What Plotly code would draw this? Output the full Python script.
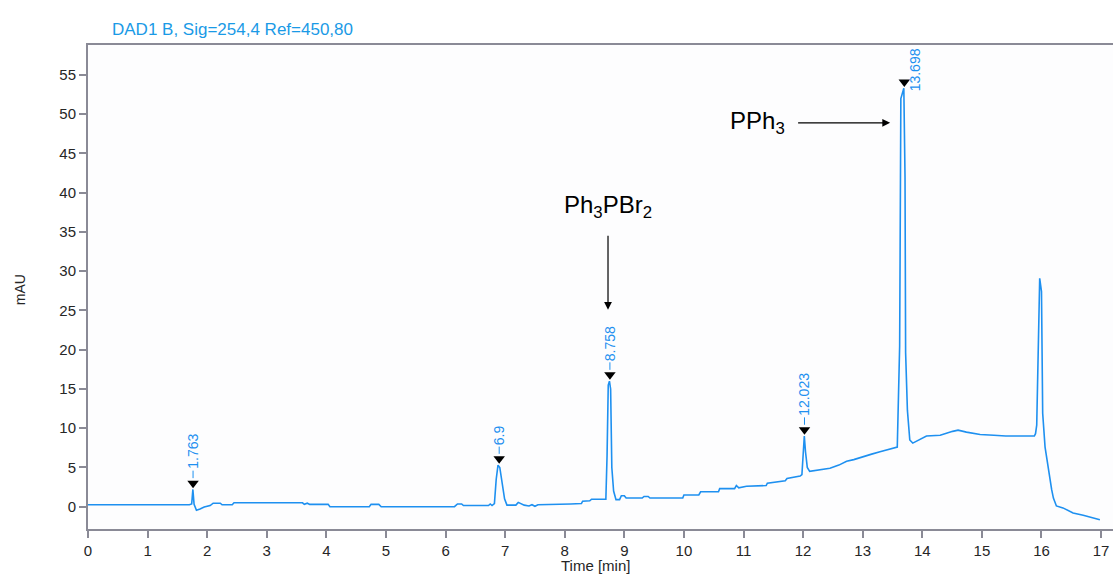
import plotly.graph_objects as go

# ---- chromatogram trace (time in min, absorbance in mAU) ----
time_min = [
    0.00, 1.70, 1.74, 1.76, 1.78, 1.82, 1.88, 1.95, 2.05, 2.10, 2.22, 2.25, 2.42, 2.45,
    3.60, 3.63, 3.68, 3.72, 4.03, 4.06, 4.72, 4.75, 4.88, 4.92, 6.15, 6.20, 6.27, 6.30,
    6.72, 6.75, 6.78, 6.82, 6.85, 6.88, 6.91, 6.95, 6.99, 7.03, 7.18, 7.22, 7.28, 7.32,
    7.40, 7.45, 7.50, 7.55, 8.10, 8.28, 8.30, 8.42, 8.45, 8.69, 8.71, 8.73, 8.75, 8.77,
    8.79, 8.82, 8.86, 8.92, 8.95, 9.00, 9.03, 9.30, 9.33, 9.40, 9.43, 9.98, 10.00, 10.25,
    10.28, 10.58, 10.60, 10.85, 10.88, 10.92, 11.05, 11.38, 11.40, 11.70, 11.73, 11.95,
    11.98, 12.00, 12.02, 12.04, 12.07, 12.11, 12.30, 12.45, 12.60, 12.73, 12.85, 13.00,
    13.15, 13.29, 13.45, 13.58, 13.62,
    13.64, 13.69, 13.71, 13.72, 13.75, 13.79, 13.84, 14.07, 14.30, 14.51, 14.60, 14.74,
    14.97, 15.20, 15.40, 15.88, 15.90, 15.92, 15.94, 15.97, 16.00, 16.02, 16.06, 16.09,
    16.12, 16.14, 16.17, 16.20, 16.25, 16.36, 16.53, 16.70, 16.87, 16.98,
]
signal_mau = [
    0.25, 0.25, 0.35, 2.2, 0.3, -0.45, -0.3, -0.05, 0.15, 0.45, 0.45, 0.25, 0.25, 0.5,
    0.5, 0.3, 0.45, 0.3, 0.3, 0.0, 0.0, 0.3, 0.3, 0.0, 0.0, 0.35, 0.35, 0.15,
    0.15, 0.35, 0.15, 0.4, 3.5, 5.3, 5.0, 3.0, 1.0, 0.2, 0.2, 0.55, 0.4, 0.2,
    0.1, 0.25, 0.05, 0.25, 0.35, 0.4, 0.7, 0.75, 0.95, 0.95, 6.5, 15.5, 16.0, 15.0,
    5.0, 2.0, 0.9, 0.9, 1.4, 1.4, 1.1, 1.1, 1.3, 1.3, 1.1, 1.1, 1.5, 1.5,
    1.9, 1.9, 2.3, 2.3, 2.7, 2.4, 2.6, 2.7, 3.0, 3.3, 3.6, 3.9,
    4.1, 7.0, 9.0, 7.0, 5.0, 4.5, 4.7, 4.9, 5.3, 5.8, 6.0, 6.4,
    6.7, 7.0, 7.3, 7.6, 20.5,
    52.0, 53.3, 42.0, 19.6, 12.3, 8.5, 8.1, 9.0, 9.1, 9.6, 9.75, 9.5,
    9.2, 9.1, 9.0, 9.0, 9.3, 10.4, 17.0, 29.1, 27.4, 11.9, 7.6, 5.95,
    4.3, 3.3, 2.2, 1.1, 0.1, -0.15, -0.8, -1.1, -1.4, -1.65,
]

# ---- integrated peaks ----
peak_rt = [1.763, 6.9, 8.758, 12.023, 13.698]
peak_labels = ["1.763", "6.9", "8.758", "12.023", "13.698"]
peak_top = [2.2, 5.3, 16.0, 9.0, 53.3]

# ---- axes ----
x_ticks = list(range(0, 18))
y_ticks = list(range(0, 60, 5))

# ---- compound call-outs (label text placed at the arrow tail) ----
compound_names = ["Ph<sub>3</sub>PBr<sub>2</sub>", "PPh<sub>3</sub>"]
compound_arrow_head = [(8.726, 25.1), (13.46, 48.9)]
compound_text_offset_px = [(0, -103), (-133, 0)]
compound_gap_px = [12, 12]

signal_title = "DAD1 B, Sig=254,4 Ref=450,80"

BLUE = "#1e90f0"
AXIS = "#8a8a96"
FONT = "Liberation Sans, Arial, sans-serif"
TICKFONT = dict(family=FONT, size=15, color="#262626")

marker_y = [h + 0.8 for h in peak_top]

fig = go.Figure()
fig.add_trace(go.Scatter(
    x=time_min, y=signal_mau, mode="lines",
    line=dict(color=BLUE, width=1.6), hoverinfo="x+y", showlegend=False,
))
fig.add_trace(go.Scatter(
    x=peak_rt, y=marker_y, mode="markers",
    marker=dict(symbol="triangle-down", size=10, color="black"),
    showlegend=False, hoverinfo="skip",
))

annotations = []
lab_font = 14
for rt, my, lab in zip(peak_rt, marker_y, peak_labels):
    n_dig = sum(c.isdigit() for c in lab)
    n_dot = len(lab) - n_dig
    L = lab_font * (0.556 * n_dig + 0.278 * n_dot)
    if rt > 13:
        ax, ay = 11, -12
    else:
        ax, ay = 0, -(5 + 9 + L / 2)
    annotations.append(dict(
        x=rt, y=my, xref="x", yref="y", text=lab, textangle=-90,
        font=dict(family=FONT, size=lab_font, color=BLUE),
        showarrow=True, arrowhead=0, arrowwidth=1, arrowcolor=BLUE,
        ax=ax, ay=ay, standoff=5,
    ))

for name, (hx, hy), (ax, ay), gap in zip(
        compound_names, compound_arrow_head, compound_text_offset_px, compound_gap_px):
    annotations.append(dict(
        x=hx, y=hy, xref="x", yref="y", text=name, showarrow=True,
        font=dict(family=FONT, size=24, color="black"),
        arrowhead=2, arrowsize=1.3, arrowwidth=1.2, arrowcolor="black",
        ax=ax, ay=ay, startstandoff=gap,
    ))

annotations.append(dict(
    x=0.0215, y=1.031, xref="paper", yref="paper", xanchor="left", yanchor="middle",
    text=signal_title, showarrow=False,
    font=dict(family=FONT, size=17, color="#1a9ae6"),
))
annotations.append(dict(
    x=-0.066, y=0.494, xref="paper", yref="paper", xanchor="center", yanchor="middle",
    text="mAU", textangle=-90, showarrow=False,
    font=dict(family=FONT, size=14, color="#262626"),
))
annotations.append(dict(
    x=0.4956, y=-0.0744, xref="paper", yref="paper", xanchor="center", yanchor="middle",
    text="Time [min]", showarrow=False,
    font=dict(family=FONT, size=15, color="#262626"),
))

fig.update_layout(
    width=1113, height=576,
    margin=dict(l=88, r=0, t=45, b=47),
    paper_bgcolor="white", plot_bgcolor="#fdfdfe",
    annotations=annotations,
    xaxis=dict(
        range=[0, 17.2], tickvals=x_ticks, ticktext=[str(v) for v in x_ticks],
        ticks="outside", ticklen=7, tickwidth=1.5, tickcolor=AXIS,
        showline=True, linecolor=AXIS, linewidth=2, mirror=True,
        showgrid=False, zeroline=False, tickfont=TICKFONT,
    ),
    yaxis=dict(
        range=[-2.84, 58.82], tickvals=y_ticks, ticktext=[str(v) for v in y_ticks],
        ticks="outside", ticklen=7, tickwidth=1.5, tickcolor=AXIS,
        showline=True, linecolor=AXIS, linewidth=2,
        showgrid=False, zeroline=False, tickfont=TICKFONT,
    ),
)

fig.write_html("out.html")
